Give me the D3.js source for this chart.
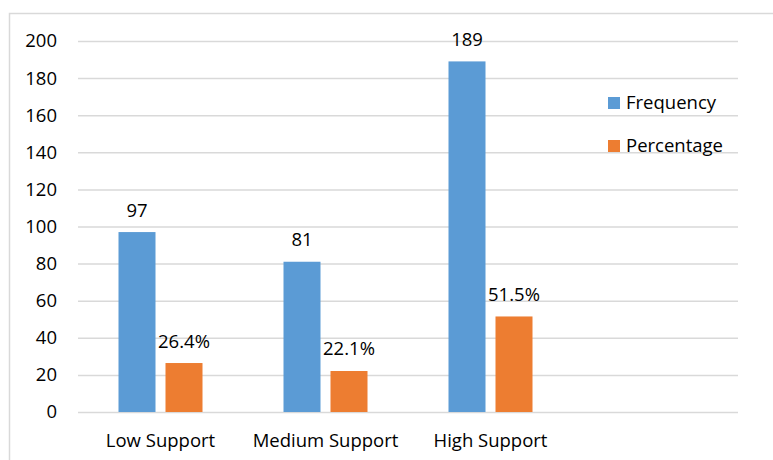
<!DOCTYPE html>
<html>
<head>
<meta charset="utf-8">
<script src="https://cdn.jsdelivr.net/npm/d3@7"></script>
<style>
  body { margin: 0; background: #fff; }
  text { font-family: "Open Sans", sans-serif; fill: #000; }
</style>
</head>
<body>
<div id="chart"></div>
<script>
var categories = ["Low Support", "Medium Support", "High Support", ""];
var seriesNames = ["Frequency", "Percentage"];
var frequency = [97, 81, 189];
var percentage = [26.4, 22.1, 51.5];
var yTicks = [0, 20, 40, 60, 80, 100, 120, 140, 160, 180, 200];
var colors = ["#5B9BD5", "#ED7D31"];

var width = 773, height = 460;
var margin = { top: 41, right: 35, bottom: 48, left: 78 };
var innerW = 738 - margin.left, innerH = 412 - margin.top;
var fontSize = "18.5px";

var svg = d3.select("#chart").append("svg")
    .attr("width", width)
    .attr("height", height);

// chart area border
svg.append("rect")
    .attr("x", 9.5).attr("y", 13.5)
    .attr("width", 780).attr("height", 480)
    .attr("fill", "none")
    .attr("stroke", "#d9d9d9")
    .attr("stroke-width", 1.5);

var g = svg.append("g")
    .attr("transform", "translate(" + margin.left + "," + margin.top + ")");

var x = d3.scaleBand().domain(categories).range([0, innerW]);
var y = d3.scaleLinear().domain([0, 200]).range([innerH, 0]);

// gridlines
g.selectAll(".grid").data(yTicks).enter().append("line")
    .attr("x1", 0).attr("x2", innerW)
    .attr("y1", function(d) { return y(d) + 0.5; })
    .attr("y2", function(d) { return y(d) + 0.5; })
    .attr("stroke", "#d9d9d9")
    .attr("stroke-width", 1.5);

// y tick labels
g.selectAll(".ylab").data(yTicks).enter().append("text")
    .attr("x", -21)
    .attr("y", function(d) { return y(d); })
    .attr("dy", "0.35em")
    .attr("text-anchor", "end")
    .style("font-size", fontSize)
    .text(function(d) { return d; });

// x labels
g.selectAll(".xlab").data(categories).enter().append("text")
    .attr("x", function(d) { return x(d) + x.bandwidth() / 2; })
    .attr("y", innerH + 29)
    .attr("dy", "0.35em")
    .attr("text-anchor", "middle")
    .style("font-size", fontSize)
    .text(function(d) { return d; });

var barW = 37, gap = 10;
var series = [frequency, percentage];

series.forEach(function(vals, si) {
    var offset = si === 0 ? -(gap / 2 + barW) : gap / 2;
    g.selectAll(".bar" + si).data(vals).enter().append("rect")
        .attr("x", function(d, i) { return x(categories[i]) + x.bandwidth() / 2 + offset; })
        .attr("y", function(d) { return y(d); })
        .attr("width", barW)
        .attr("height", function(d) { return innerH - y(d); })
        .attr("fill", colors[si]);

    g.selectAll(".lab" + si).data(vals).enter().append("text")
        .attr("x", function(d, i) { return x(categories[i]) + x.bandwidth() / 2 + offset + barW / 2; })
        .attr("y", function(d) { return y(d) - 22; })
        .attr("dy", "0.35em")
        .attr("text-anchor", "middle")
        .style("font-size", fontSize)
        .text(function(d) { return si === 0 ? d : d + "%"; });
});

// legend
var legend = svg.selectAll(".legend").data(seriesNames).enter().append("g")
    .attr("transform", function(d, i) { return "translate(608," + (97 + i * 43) + ")"; });
legend.append("rect")
    .attr("width", 12).attr("height", 12)
    .attr("fill", function(d, i) { return colors[i]; });
legend.append("text")
    .attr("x", 18).attr("y", 6)
    .attr("dy", "0.35em")
    .style("font-size", fontSize)
    .text(function(d) { return d; });
</script>
</body>
</html>
